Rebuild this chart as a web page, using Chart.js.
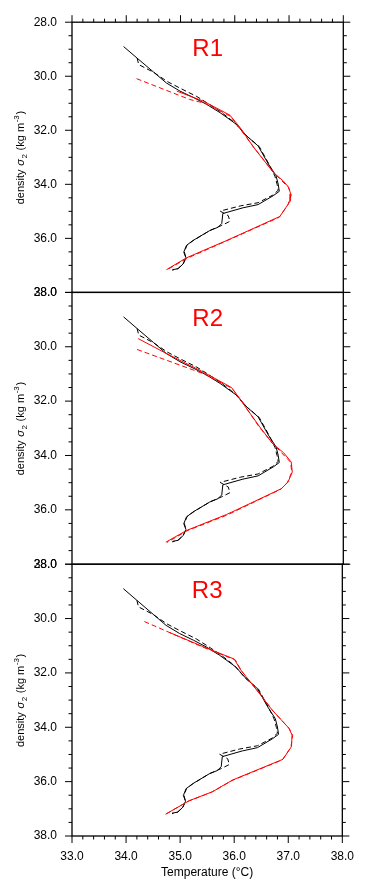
<!DOCTYPE html>
<html>
<head>
<meta charset="utf-8">
<script src="https://cdn.jsdelivr.net/npm/chart.js@4.4.1/dist/chart.umd.min.js"></script>
<style>
  html, body { margin: 0; padding: 0; background: #fff; }
  #marco { position: relative; width: 367px; height: 894px; }
  #marco canvas { position: absolute; left: 0; top: 0; }
</style>
</head>
<body>
<div id="marco">
  <canvas id="panel1" width="367" height="894"></canvas>
  <canvas id="panel2" width="367" height="894"></canvas>
  <canvas id="panel3" width="367" height="894"></canvas>
</div>
<script>
// perfil observado (negro), igual en los tres paneles
const obsT     = [33.95, 34.20, 34.50, 34.74, 34.99, 35.25, 35.48, 35.73, 36.03, 36.22, 36.43, 36.62, 36.76, 36.80, 36.82, 36.71, 36.43, 36.15, 35.78, 35.76, 35.69, 35.54, 35.23, 35.11, 35.06, 35.10, 35.05, 34.96, 34.85];
const obsSigma = [28.90, 29.33, 29.84, 30.25, 30.55, 30.80, 31.04, 31.35, 31.78, 32.21, 32.58, 33.25, 33.68, 33.99, 34.26, 34.42, 34.75, 34.87, 35.08, 35.45, 35.59, 35.71, 36.08, 36.26, 36.51, 36.72, 36.94, 37.12, 37.16];
const obsT2     = [34.20, 34.23, 34.50, 34.76, 35.00, 35.30, 35.50, 35.75, 36.00, 36.20, 36.45, 36.63, 36.74, 36.78, 36.80, 36.70, 36.43, 36.10, 35.73, 35.88, 35.91, 35.76, 35.55, 35.25, 35.12, 35.07, 35.10, 35.05, 34.95, 34.85];
const obsSigma2 = [29.33, 29.57, 29.85, 30.20, 30.45, 30.75, 31.00, 31.33, 31.72, 32.18, 32.60, 33.25, 33.70, 34.00, 34.22, 34.40, 34.68, 34.80, 34.99, 35.16, 35.37, 35.52, 35.70, 36.06, 36.25, 36.50, 36.72, 36.94, 37.12, 37.18];

// modelos (rojo)
const r1T  = [34.93, 35.42, 35.91, 36.09, 36.34, 36.71, 36.89, 36.99, 37.03, 37.02, 36.97, 36.83, 36.28, 35.85, 35.42, 35.11, 34.74];
const r1S  = [30.55, 30.92, 31.44, 31.88, 32.61, 33.56, 33.87, 34.10, 34.35, 34.62, 34.78, 35.19, 35.69, 36.08, 36.45, 36.72, 37.16];
const r1dT = [34.19, 35.17, 35.45, 35.92, 36.08, 36.35, 36.72, 36.99, 37.04, 36.98, 36.82, 35.84, 35.12, 34.76];
const r1dS = [30.09, 30.86, 31.00, 31.48, 31.90, 32.63, 33.57, 34.12, 34.40, 34.75, 35.22, 36.10, 36.74, 37.15];

const r2T  = [34.22, 34.74, 35.42, 35.94, 36.09, 36.46, 36.70, 36.90, 37.04, 37.06, 36.98, 36.86, 36.30, 35.85, 35.11, 34.73];
const r2S  = [29.70, 30.25, 30.93, 31.50, 31.91, 32.95, 33.57, 33.90, 34.24, 34.61, 34.98, 35.22, 35.75, 36.17, 36.76, 37.19];
const r2dT = [34.20, 35.42, 35.95, 36.10, 36.45, 36.71, 37.03, 37.05, 36.97, 36.85, 35.86, 35.12, 34.75];
const r2dS = [30.10, 30.99, 31.53, 31.93, 32.95, 33.58, 34.25, 34.62, 34.99, 35.24, 36.19, 36.77, 37.20];

const r3T  = [34.80, 35.42, 36.00, 36.12, 36.46, 36.70, 37.01, 37.07, 37.06, 36.90, 35.97, 35.60, 35.17, 34.73];
const r3S  = [30.51, 31.03, 31.49, 31.89, 32.74, 33.36, 34.03, 34.28, 34.71, 35.18, 35.94, 36.37, 36.70, 37.20];
const r3dT = [34.34, 35.42, 36.02, 36.13, 36.47, 36.71, 37.02, 37.08, 37.05, 36.89, 35.96, 35.58, 35.15, 34.74];
const r3dS = [30.11, 31.05, 31.52, 31.91, 32.76, 33.38, 34.05, 34.30, 34.73, 35.20, 35.96, 36.39, 36.72, 37.19];

const nombres = ["R1", "R2", "R3"];
const rangoT = [33, 38];
const rangoSigma = [28, 38];

const arribas = [20.7, 292.4, 564.2];
const abajos  = [292.4, 564.2, 836];

const fuente = "'Liberation Sans', Arial, sans-serif";
Chart.defaults.font.family = fuente;
Chart.defaults.color = "#000";

function puntos(xs, ys){
    return xs.map((v, i) => ({ x: v, y: ys[i] }));
}

// titulo del eje y con subindice y superindice
function tituloY(ctx, cx, cy){
    const partes = [
        { t: "density ", f: "11px " + fuente, dy: 0 },
        { t: "σ", f: "italic 11px " + fuente, dy: 0 },
        { t: "2", f: "8px " + fuente, dy: 3 },
        { t: " (kg m", f: "11px " + fuente, dy: 0 },
        { t: "-3", f: "8px " + fuente, dy: -5 },
        { t: ")", f: "11px " + fuente, dy: 0 }
    ];
    let total = 0;
    partes.forEach(p => { ctx.font = p.f; p.w = ctx.measureText(p.t).width + 0.6; total += p.w; });
    ctx.save();
    ctx.translate(cx, cy);
    ctx.rotate(-Math.PI / 2);
    ctx.fillStyle = "#000";
    ctx.textAlign = "left";
    ctx.textBaseline = "alphabetic";
    let x = -total / 2;
    partes.forEach(p => {
        ctx.font = p.f;
        ctx.fillText(p.t, x, 4 + p.dy);
        x += p.w;
    });
    ctx.restore();
}

const marcoPlugin = {
    id: "marco",
    afterDraw(chart, args, opts){
        const ctx = chart.ctx;
        const a = chart.chartArea;
        const sx = chart.scales.x;
        const sy = chart.scales.y;
        ctx.save();
        ctx.strokeStyle = "#000";
        ctx.lineWidth = 1;

        // marcas del eje y (cada 0.5)
        for(let k = 0; k <= 20; k++){
            const v = rangoSigma[0] + k * 0.5;
            const py = sy.getPixelForValue(v);
            const len = (k % 4 == 0) ? 7 : 3.5;
            ctx.beginPath();
            ctx.moveTo(a.left - len, py); ctx.lineTo(a.left, py);
            ctx.moveTo(a.right, py); ctx.lineTo(a.right + len, py);
            ctx.stroke();
        }

        // marcas del eje x (cada 0.2)
        for(let k = 0; k <= 25; k++){
            const v = rangoT[0] + k * 0.2;
            const px = sx.getPixelForValue(v);
            const len = (k % 5 == 0) ? 7 : 3.5;
            ctx.beginPath();
            if(opts.arriba){ ctx.moveTo(px, a.top - len); ctx.lineTo(px, a.top); }
            if(opts.abajo){ ctx.moveTo(px, a.bottom); ctx.lineTo(px, a.bottom + len); }
            ctx.stroke();
        }

        ctx.lineWidth = 1.3;
        ctx.strokeRect(a.left, a.top, a.right - a.left, a.bottom - a.top);

        ctx.fillStyle = "#ff0000";
        ctx.font = "24px " + fuente;
        ctx.textAlign = "center";
        ctx.textBaseline = "middle";
        ctx.fillText(opts.nombre, sx.getPixelForValue(35.5), sy.getPixelForValue(29.0));
        ctx.restore();

        tituloY(ctx, 20, (a.top + a.bottom) / 2);
    }
};

function crearPanel(id, i, rojoT, rojoS, rojoDT, rojoDS){
    const ultimo = (i == 2);
    const ctx = document.getElementById(id).getContext("2d");
    return new Chart(ctx, {
        type: "scatter",
        data: {
            datasets: [
                { data: puntos(rojoT, rojoS), borderColor: "#ff0000", borderWidth: 1, showLine: true, pointRadius: 0, fill: false },
                { data: puntos(rojoDT, rojoDS), borderColor: "#ff0000", borderWidth: 1, borderDash: [5, 3], showLine: true, pointRadius: 0, fill: false },
                { data: puntos(obsT, obsSigma), borderColor: "#000", borderWidth: 1, showLine: true, pointRadius: 0, fill: false },
                { data: puntos(obsT2, obsSigma2), borderColor: "#000", borderWidth: 1, borderDash: [5, 3], showLine: true, pointRadius: 0, fill: false }
            ]
        },
        options: {
            responsive: false,
            animation: false,
            events: [],
            layout: {
                padding: {
                    top: arribas[i],
                    bottom: ultimo ? 0 : 894 - abajos[i],
                    left: 0,
                    right: 23.7
                }
            },
            plugins: {
                legend: { display: false },
                tooltip: { enabled: false },
                marco: { nombre: nombres[i], arriba: i == 0, abajo: ultimo }
            },
            scales: {
                x: {
                    type: "linear",
                    display: ultimo,
                    min: rangoT[0],
                    max: rangoT[1],
                    grid: { display: false, drawTicks: false },
                    border: { display: false },
                    ticks: {
                        stepSize: 1,
                        padding: 13,
                        font: { size: 12 },
                        callback: v => v.toFixed(1)
                    },
                    title: {
                        display: true,
                        text: "Temperature (°C)",
                        font: { size: 12 },
                        padding: { top: 0, bottom: 14 }
                    },
                    afterFit: s => { s.height = ultimo ? 58 : 0; }
                },
                y: {
                    type: "linear",
                    reverse: true,
                    min: rangoSigma[0],
                    max: rangoSigma[1],
                    grid: { display: false, drawTicks: false },
                    border: { display: false },
                    ticks: {
                        stepSize: 2,
                        padding: 15,
                        font: { size: 12 },
                        callback: v => v.toFixed(1)
                    },
                    title: { display: false },
                    afterFit: s => { s.width = 72; }
                }
            }
        },
        plugins: [marcoPlugin]
    });
}

crearPanel("panel1", 0, r1T, r1S, r1dT, r1dS);
crearPanel("panel2", 1, r2T, r2S, r2dT, r2dS);
crearPanel("panel3", 2, r3T, r3S, r3dT, r3dS);
</script>
</body>
</html>
